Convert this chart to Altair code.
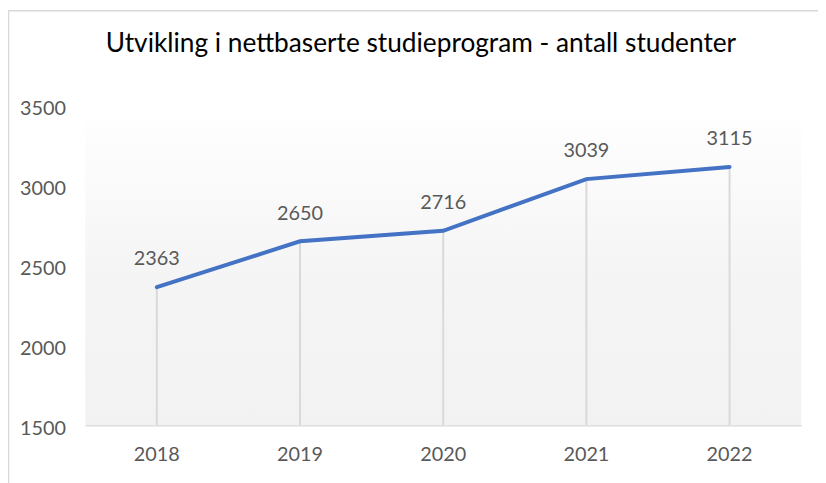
import altair as alt
import pandas as pd

years = ["2018", "2019", "2020", "2021", "2022"]
students = [2363, 2650, 2716, 3039, 3115]
title_text = "Utvikling i nettbaserte studieprogram - antall studenter"

df = pd.DataFrame({"year": years, "students": students})

FONT = "Lato"
GREY_TXT = "#595959"
FS = 20

x_enc = alt.X("year:N", sort=years, title=None,
              scale=alt.Scale(paddingInner=0, paddingOuter=0),
              axis=alt.Axis(labelAngle=0, ticks=False, labelPadding=20,
                            labelFontSize=FS, labelFont=FONT, labelColor=GREY_TXT,
                            domainColor="#d9d9d9", domainWidth=1.5, grid=False))
y_scale = alt.Scale(domain=[1500, 3500], nice=False, zero=False)
y_enc = alt.Y("students:Q", scale=y_scale, title=None,
              axis=alt.Axis(values=[1500, 2000, 2500, 3000, 3500], ticks=False,
                            format="d",
                            labelPadding=20, labelFontSize=FS, labelFont=FONT,
                            labelColor=GREY_TXT, domain=False, grid=False,
                            labelBaseline="middle", labelOffset=3))

one = pd.DataFrame({"t": [title_text]})

bg = alt.Chart(one).mark_rect(
    color=alt.LinearGradient(
        gradient="linear", x1=0, x2=0, y1=0, y2=1,
        stops=[alt.GradientStop(color="#fefefe", offset=0),
               alt.GradientStop(color="#f4f4f4", offset=0.55),
               alt.GradientStop(color="#f2f2f2", offset=1)])
).encode(x=alt.value(0), x2=alt.value(723), y=alt.value(14), y2=alt.value(323))

border = alt.Chart(one).mark_rule(color="#d9d9d9", strokeWidth=1.5)
border_left = border.encode(x=alt.value(-77.5), y=alt.value(-96), y2=alt.value(400))
border_top = border.encode(x=alt.value(-78), x2=alt.value(760), y=alt.value(-95.5))

title = alt.Chart(one).mark_text(font=FONT, fontSize=26.5, color="#000000",
                                 align="center", baseline="alphabetic").encode(
    x=alt.value(339), y=alt.value(-54), text="t:N")

base = alt.Chart(df)
drops = base.mark_rule(color="#d9d9d9", strokeWidth=2).encode(
    x=x_enc, y=y_enc, y2=alt.value(323))
line = base.mark_line(color="#4472C4", strokeWidth=4, strokeCap="round").encode(
    x=x_enc, y=y_enc)
labels = base.mark_text(font=FONT, fontSize=FS, color=GREY_TXT, dy=-28,
                        baseline="middle").encode(
    x=x_enc, y=y_enc, text=alt.Text("students:Q", format="d"))

chart = alt.layer(bg, border_left, border_top, title, drops, line, labels).properties(
    width=723, height=323,
    autosize=alt.AutoSizeParams(type="none"),
    padding={"left": 78, "top": 96, "right": 17, "bottom": 56},
    background="white",
).configure_view(strokeOpacity=0)

chart.save("out.html", embed_options={"renderer": "svg", "actions": False})
